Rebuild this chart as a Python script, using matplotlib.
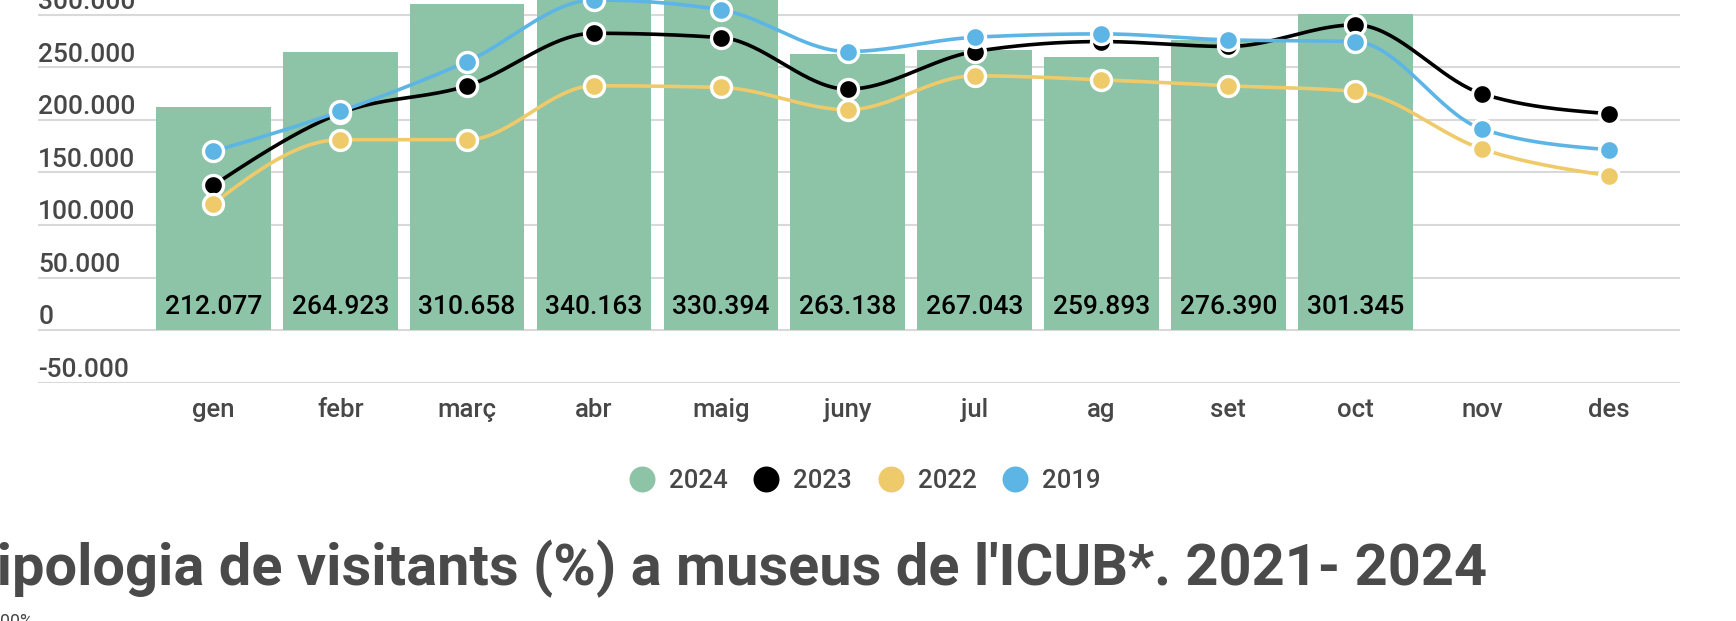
import numpy as np
import matplotlib.pyplot as plt
import matplotlib.transforms as mtransforms
from matplotlib.lines import Line2D

plt.rcParams['font.family'] = ['Roboto', 'DejaVu Sans']

months = ["gen", "febr", "març", "abr", "maig", "juny", "jul", "ag", "set", "oct", "nov", "des"]
visits_2024 = [212077, 264923, 310658, 340163, 330394, 263138, 267043, 259893, 276390, 301345]
visits_2023 = [137800, 206500, 232600, 282600, 278500, 229400, 265200, 274700, 270000, 290600, 225000, 206000]
visits_2022 = [120400, 181200, 181200, 232600, 231000, 209800, 242100, 238300, 232600, 227200, 172400, 147000]
visits_2019 = [170200, 208200, 255700, 314300, 305000, 265200, 278800, 282000, 276300, 274700, 191400, 171700]

GREEN = "#8DC3A7"
BLACK = "#000000"
YELLOW = "#EFCA6A"
BLUE = "#5DB5E5"
GRID = "#D9D9D9"
TEXT = "#474747"

W, H = 1736, 621


def fmt(v):
    return f"{v:,}".replace(",", ".")


def monotone(y, n=40):
    # d3 curveMonotoneX style smoothing for the line path
    y = np.asarray(y, float)
    s = np.diff(y)
    m = np.zeros_like(y)
    sg = lambda v: -1.0 if v < 0 else 1.0
    for i in range(1, len(y) - 1):
        s0, s1 = s[i - 1], s[i]
        p = (s0 + s1) / 2
        m[i] = (sg(s0) + sg(s1)) * min(abs(s0), abs(s1), 0.5 * abs(p))
    m[0] = (3 * s[0] - m[1]) / 2
    m[-1] = (3 * s[-1] - m[-2]) / 2
    xs, ys = [], []
    t = np.linspace(0, 1, n)
    for i in range(len(y) - 1):
        h00 = 2 * t**3 - 3 * t**2 + 1
        h10 = t**3 - 2 * t**2 + t
        h01 = -2 * t**3 + 3 * t**2
        h11 = t**3 - t**2
        xs.append(i + t)
        ys.append(h00 * y[i] + h10 * m[i] + h01 * y[i + 1] + h11 * m[i + 1])
    return np.concatenate(xs), np.concatenate(ys)


fig = plt.figure(figsize=(W / 100, H / 100), dpi=100)
ax = fig.add_axes([38.3 / W, 1 - 382.5 / H, (1680 - 38.3) / W, (382.5 + 37.5) / H])
ax.set_xlim(-1.38, 11.56)
ax.set_ylim(-50000, 350000)
for sp in ax.spines.values():
    sp.set_visible(False)
ax.set_yticks(range(-50000, 350001, 50000))
ax.set_xticks([])
ax.tick_params(axis='y', length=0, labelleft=False)
ax.yaxis.grid(True, color=GRID, lw=1.5)
ax.set_axisbelow(True)

# y labels sit inside the plot, above each gridline
ytrans = mtransforms.blended_transform_factory(ax.transAxes, ax.transData)
for v in range(-50000, 300001, 50000):
    ax.annotate(fmt(v), xy=(0, v), xycoords=ytrans, xytext=(0, 4), textcoords='offset points',
                ha='left', va='baseline', fontsize=19, fontweight=500, color=TEXT)

# month labels
xtrans = mtransforms.blended_transform_factory(ax.transData, ax.transAxes)
for i, m in enumerate(months):
    ax.annotate(m, xy=(i, 0), xycoords=xtrans, xytext=(0, -25), textcoords='offset points',
                ha='center', va='baseline', fontsize=18.5, fontweight=500, color=TEXT)

ax.bar(range(len(visits_2024)), visits_2024, width=0.904, color=GREEN, zorder=2)
for i, v in enumerate(visits_2024):
    ax.annotate(fmt(v), xy=(i, 0), xytext=(0, 11.7), textcoords='offset points',
                ha='center', va='baseline', fontsize=19, fontweight=500, color='black', zorder=2.5)

series = [(visits_2023, BLACK), (visits_2022, YELLOW), (visits_2019, BLUE)]
for k, (vals, c) in enumerate(series):
    xs, ys = monotone(vals)
    ax.plot(xs, ys, color=c, lw=2.6, zorder=3 + k, solid_capstyle='round')
    ax.plot(range(len(vals)), vals, 'o', ms=14.4, mfc=c, mec='white', mew=2.4, zorder=3 + k)

handles = [Line2D([], [], marker='o', ls='', ms=18.7, mfc=c, mec=c, mew=0)
           for c in [GREEN, BLACK, YELLOW, BLUE]]
fig.legend(handles, ["2024", "2023", "2022", "2019"], loc='center',
           bbox_to_anchor=(865 / W, 1 - 481 / H), ncol=4, frameon=False,
           prop={'size': 18.5, 'weight': 500}, labelcolor=TEXT,
           handlelength=1.0, handletextpad=0.55, columnspacing=1.0)

# title of the next chart, cut at the left edge
r = fig.canvas.get_renderer()
tmp = fig.text(0, 0, "T", fontsize=41.6, fontweight='bold')
wT = tmp.get_window_extent(r).width
tmp.remove()
fig.text(-(wT + 3.5) / W, 1 - 585 / H, "Tipologia de visitants (%) a museus de l'ICUB*. 2021- 2024",
         fontsize=41.6, fontweight='bold', color="#4A4A4A", ha='left', va='baseline')
fig.text(-10 / W, 1 - 627 / H, "100%", fontsize=12.8, color=TEXT, ha='left', va='baseline')

fig.savefig("out.png", dpi=100)
